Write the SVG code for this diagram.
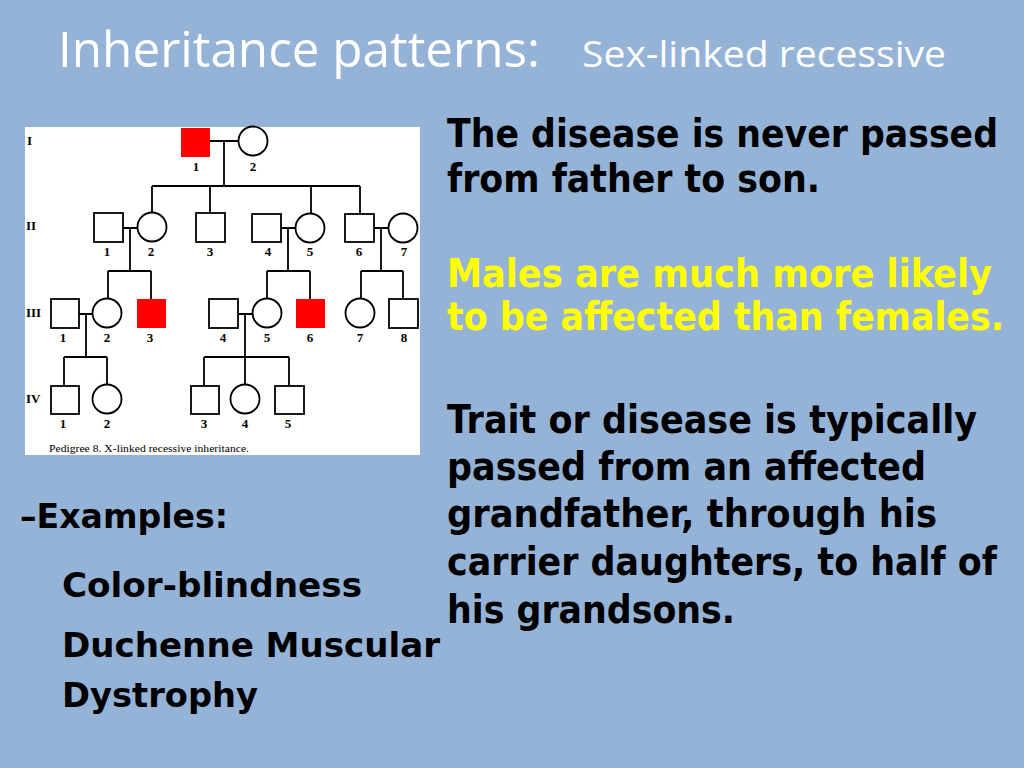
<svg xmlns="http://www.w3.org/2000/svg" width="1024" height="768" viewBox="0 0 1024 768">
<style>
.bg{fill:#95b3d7}
.m{fill:#fff;stroke:#000;stroke-width:1.8}
.a{fill:#f00;stroke:none}
.ln{stroke:#000;stroke-width:1.8;fill:none}
.lb{font-family:"Liberation Serif",serif;font-weight:bold;font-size:13px;fill:#000;text-anchor:middle}
.gen{font-family:"Liberation Serif",serif;font-weight:bold;font-size:13px;fill:#000}
.cap{font-family:"Liberation Serif",serif;font-size:10px;fill:#000}
.t1{font-family:"Open Sans","Liberation Sans",sans-serif;fill:#fff}
.b{font-family:"DejaVu Sans Condensed","DejaVu Sans","Liberation Sans",sans-serif;font-stretch:condensed;font-weight:bold;font-size:39px;fill:#000}
.y{fill:#ffff00}
.s{font-size:34px}
</style>
<rect class="bg" x="0" y="0" width="1024" height="768"/>
<g id="title">
<text class="t1" x="58" y="67" font-size="49" textLength="482" lengthAdjust="spacingAndGlyphs">Inheritance patterns:</text>
<text class="t1" x="582" y="67" font-size="36" textLength="364" lengthAdjust="spacingAndGlyphs">Sex-linked recessive</text>
</g>
<g id="pedigree">
<rect x="25" y="127" width="395" height="328" fill="#fff"/>
<text class="gen" x="27" y="145">I</text>
<text class="gen" x="26" y="230">II</text>
<text class="gen" x="26" y="317">III</text>
<text class="gen" x="26" y="403">IV</text>
<g id="connectors">
<path class="ln" d="M210 141H238 M224 141V186 M152 186H360 M152 186V212 M210 186V213 M311 186V213 M360 186V213"/>
<path class="ln" d="M123 228H137 M130 228V271 M108 271H151 M108 271V299 M151 271V299"/>
<path class="ln" d="M281 228H296 M288 228V271 M267 271H310 M267 271V299 M310 271V299"/>
<path class="ln" d="M374 228H388 M381 228V271 M361 271H403 M361 271V299 M403 271V299"/>
<path class="ln" d="M79 314H93 M86 314V357 M64 357H107 M64 357V386 M107 357V385"/>
<path class="ln" d="M238 314H252 M245 314V357 M204 357H289 M204 357V386 M245 357V385 M289 357V386"/>
</g>
<g id="I-1"><rect class="a" x="181" y="128" width="29" height="29"/><text class="lb" x="196" y="171">1</text></g>
<g id="I-2"><circle class="m" cx="253" cy="141" r="14.5"/><text class="lb" x="253" y="171">2</text></g>
<g id="II-1"><rect class="m" x="94" y="213" width="29" height="29"/><text class="lb" x="107" y="256">1</text></g>
<g id="II-2"><circle class="m" cx="152" cy="227" r="14.5"/><text class="lb" x="151" y="256">2</text></g>
<g id="II-3"><rect class="m" x="196" y="213" width="29" height="29"/><text class="lb" x="210" y="256">3</text></g>
<g id="II-4"><rect class="m" x="252" y="214" width="29" height="28"/><text class="lb" x="268" y="256">4</text></g>
<g id="II-5"><circle class="m" cx="310" cy="228" r="14.5"/><text class="lb" x="310" y="256">5</text></g>
<g id="II-6"><rect class="m" x="345" y="214" width="29" height="28"/><text class="lb" x="359" y="256">6</text></g>
<g id="II-7"><circle class="m" cx="403" cy="228" r="14.5"/><text class="lb" x="404" y="256">7</text></g>
<g id="III-1"><rect class="m" x="51" y="299" width="28" height="29"/><text class="lb" x="63" y="342">1</text></g>
<g id="III-2"><circle class="m" cx="107" cy="313" r="14.5"/><text class="lb" x="107" y="342">2</text></g>
<g id="III-3"><rect class="a" x="137" y="299" width="29" height="29"/><text class="lb" x="150" y="342">3</text></g>
<g id="III-4"><rect class="m" x="209" y="299" width="29" height="29"/><text class="lb" x="223" y="342">4</text></g>
<g id="III-5"><circle class="m" cx="267" cy="313" r="14.5"/><text class="lb" x="267" y="342">5</text></g>
<g id="III-6"><rect class="a" x="296" y="299" width="29" height="29"/><text class="lb" x="310" y="342">6</text></g>
<g id="III-7"><circle class="m" cx="360" cy="313" r="14.5"/><text class="lb" x="360" y="342">7</text></g>
<g id="III-8"><rect class="m" x="389" y="299" width="29" height="29"/><text class="lb" x="404" y="342">8</text></g>
<g id="IV-1"><rect class="m" x="51" y="386" width="28" height="28"/><text class="lb" x="63" y="428">1</text></g>
<g id="IV-2"><circle class="m" cx="107" cy="399" r="14.5"/><text class="lb" x="107" y="428">2</text></g>
<g id="IV-3"><rect class="m" x="191" y="386" width="28" height="28"/><text class="lb" x="204" y="428">3</text></g>
<g id="IV-4"><circle class="m" cx="245" cy="399" r="14.5"/><text class="lb" x="245" y="428">4</text></g>
<g id="IV-5"><rect class="m" x="275" y="386" width="29" height="28"/><text class="lb" x="288" y="428">5</text></g>
<text class="cap" x="49" y="452" textLength="200" lengthAdjust="spacingAndGlyphs">Pedigree 8. X-linked recessive inheritance.</text>
</g>
<g id="facts">
<text class="b" x="447" y="147" textLength="551" lengthAdjust="spacingAndGlyphs">The disease is never passed</text>
<text class="b" x="447" y="192" textLength="373" lengthAdjust="spacingAndGlyphs">from father to son.</text>
<text class="b y" x="447" y="287" textLength="545" lengthAdjust="spacingAndGlyphs">Males are much more likely</text>
<text class="b y" x="447" y="330" textLength="557" lengthAdjust="spacingAndGlyphs">to be affected than females.</text>
<text class="b" x="447" y="433" textLength="530" lengthAdjust="spacingAndGlyphs">Trait or disease is typically</text>
<text class="b" x="447" y="480" textLength="479" lengthAdjust="spacingAndGlyphs">passed from an affected</text>
<text class="b" x="447" y="527" textLength="490" lengthAdjust="spacingAndGlyphs">grandfather, through his</text>
<text class="b" x="447" y="575" textLength="550" lengthAdjust="spacingAndGlyphs">carrier daughters, to half of</text>
<text class="b" x="447" y="623" textLength="288" lengthAdjust="spacingAndGlyphs">his grandsons.</text>
</g>
<g id="examples">
<text class="b s" x="20" y="528" textLength="208" lengthAdjust="spacingAndGlyphs">–Examples:</text>
<text class="b s" x="62" y="597" textLength="300" lengthAdjust="spacingAndGlyphs">Color-blindness</text>
<text class="b s" x="62" y="657" textLength="378" lengthAdjust="spacingAndGlyphs">Duchenne Muscular</text>
<text class="b s" x="62" y="707" textLength="196" lengthAdjust="spacingAndGlyphs">Dystrophy</text>
</g>
</svg>
